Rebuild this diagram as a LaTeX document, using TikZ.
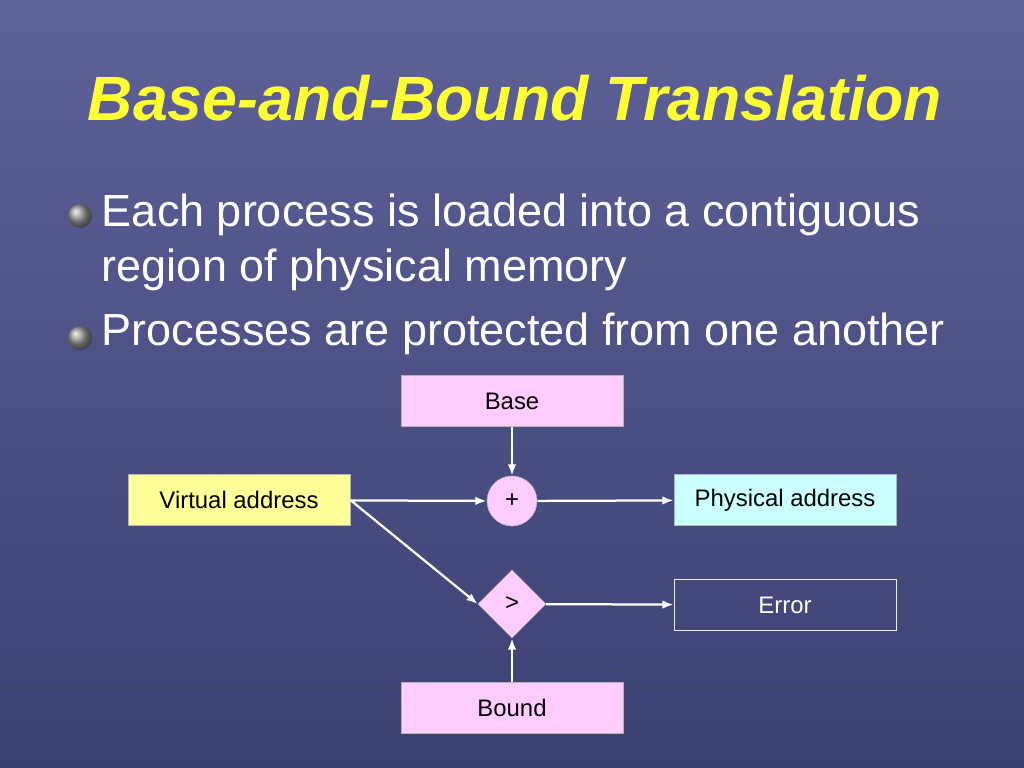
\documentclass[tikz,border=0pt]{standalone}
\usepackage{fontspec}
\setmainfont{Liberation Sans}
\usetikzlibrary{shapes.geometric, arrows.meta}
\definecolor{bgtop}{HTML}{5E6299}
\definecolor{bgbot}{HTML}{3B3F70}
\definecolor{titleyel}{HTML}{FFFF33}
\definecolor{boxpink}{HTML}{FFCCFF}
\definecolor{boxyel}{HTML}{FFFF99}
\definecolor{boxcyan}{HTML}{CCFFFF}
\tikzset{
  box/.style={draw=gray!60, minimum width=222*0.025cm, minimum height=51*0.025cm, inner sep=0pt, font=\fontsize{17}{20}\selectfont},
  flow/.style={draw=white, line width=1.6pt, -{Latex[length=8pt,width=6pt]}},
  bullet/.style={circle, inner sep=0pt, minimum size=0.6cm, ball color=gray!80}
}
\begin{document}
\begin{tikzpicture}[x=0.025cm, y=-0.025cm]
\shade[top color=bgtop, bottom color=bgbot] (0,0) rectangle (1024,768);
\useasboundingbox (0,0) rectangle (1024,768);
\node[text=titleyel, font=\fontsize{44.5}{50}\selectfont\bfseries\itshape] (title) at (515,98) {Base-and-Bound Translation};
\node[bullet] (b1) at (80,216) {};
\node[bullet] (b2) at (80,338) {};
\node[anchor=west, text=white, align=left, font=\fontsize{32}{39}\selectfont] (t1) at (97,242) {Each process is loaded into a contiguous\\region of physical memory};
\node[anchor=west, text=white, font=\fontsize{32}{39}\selectfont] (t2) at (97,334) {Processes are protected from one another};
\node[box, fill=boxpink] (base) at (512,401) {Base};
\node[box, fill=boxyel] (virt) at (239,500) {Virtual address};
\node[circle, draw=gray!60, fill=boxpink, minimum size=50*0.025cm, font=\fontsize{17}{20}\selectfont] (plus) at (512,501) {+};
\node[box, fill=boxcyan] (phys) at (785,500) {Physical address};
\node[diamond, draw=gray!60, fill=boxpink, minimum size=68*0.025cm, inner sep=0pt, font=\fontsize{17}{20}\selectfont] (cmp) at (512,604) {>};
\node[box, draw=white!85!gray, text=white] (err) at (785,605) {Error};
\node[box, fill=boxpink] (bound) at (512,708) {Bound};
\draw[flow] (base) -- (plus);
\draw[flow] (virt) -- (plus);
\draw[flow] (plus) -- (phys);
\draw[flow] (virt.east) -- (cmp.west);
\draw[flow] (cmp) -- (err);
\draw[flow] (bound) -- (cmp);
\end{tikzpicture}
\end{document}
